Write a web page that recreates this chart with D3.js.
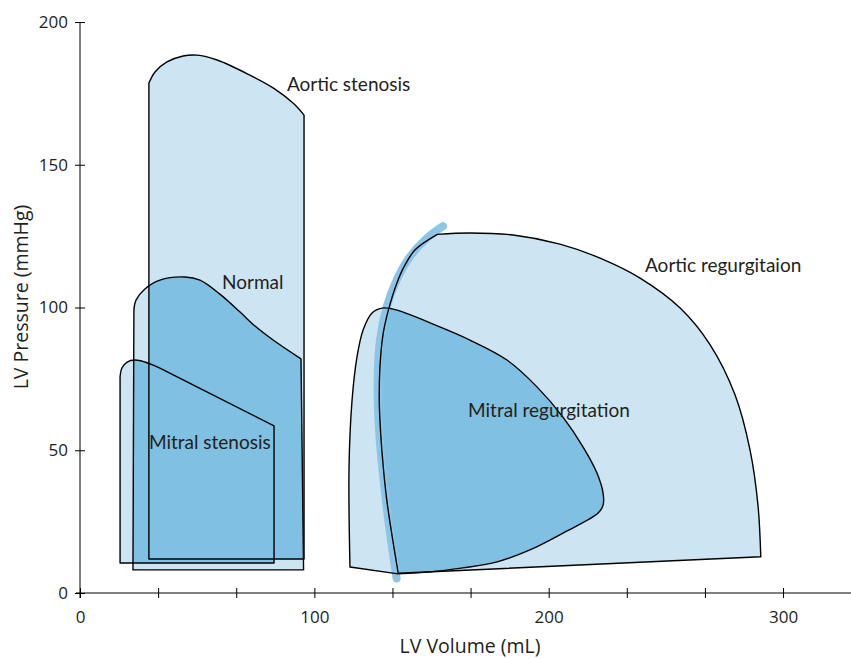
<!DOCTYPE html>
<html>
<head>
<meta charset="utf-8">
<script src="https://cdn.jsdelivr.net/npm/d3@7"></script>
<style>
  html, body { margin: 0; padding: 0; background: #fff; }
  svg { display: block; }
</style>
</head>
<body>
<svg id="chart" width="851" height="659"></svg>
<script>
// ---- Data (LV volume mL, LV pressure mmHg) ----
const xTicks = [0, 100/3, 200/3, 100, 400/3, 500/3, 200, 700/3, 800/3, 300];
const xTickLabels = ["0", "", "", "100", "", "", "200", "", "", "300"];
const yTicks = [0, 50, 100, 150, 200];

// each loop = list of segments; each segment is a smooth run of [volume, pressure]
const aorticStenosis = [
  [[29.4, 11.9], [29.4, 178.6]],
  [[29.4, 178.6], [32.0, 182.5], [37.1, 186.0], [44.0, 188.1], [49.9, 188.4], [58.5, 186.7], [72.5, 181.4], [82.4, 176.9], [90.9, 171.6], [95.6, 167.4]],
  [[95.6, 167.4], [95.6, 11.9]]
];
const normal = [
  [[22.6, 8.1], [23.0, 99.1]],
  [[23.0, 99.1], [23.9, 102.6], [27.7, 106.5], [34.1, 109.6], [44.8, 110.7], [51.2, 109.6], [59.7, 104.7], [68.3, 98.4], [74.7, 93.5], [82.4, 88.6], [94.3, 82.0]],
  [[94.3, 82.0], [95.4, 8.1]]
];
const mitralStenosis = [
  [[17.1, 10.5], [17.1, 75.7]],
  [[17.1, 75.7], [17.9, 78.8], [20.1, 80.9], [23.5, 81.6], [27.7, 80.9], [34.1, 78.8]],
  [[34.1, 78.8], [82.8, 58.5]],
  [[82.8, 58.5], [82.8, 10.5]]
];
const mitralRegurgitation = [
  [[115.2, 9.1], [114.8, 44.1], [116.1, 67.6], [118.2, 82.7], [120.8, 92.1], [124.6, 98.1], [128.9, 99.8], [135.3, 99.1], [149.4, 94.6], [166.4, 88.6], [182.2, 81.6], [195.0, 72.2], [206.1, 61.6], [214.7, 51.1], [220.6, 42.0], [223.2, 35.0], [223.2, 30.8], [221.1, 28.0], [206.1, 21.0], [192.0, 15.1], [178.0, 10.9], [163.4, 8.8], [149.4, 7.4], [135.7, 6.7]],
  [[135.7, 6.7], [115.2, 9.1]]
];
const aorticRegurgitation = [
  [[135.8, 6.9], [133.0, 20.9], [130.9, 32.6], [129.4, 44.2], [128.3, 55.9], [127.7, 67.6], [128.0, 79.3], [129.4, 91.0], [131.6, 99.1], [135.2, 108.5], [138.3, 114.3], [143.0, 120.2], [152.5, 125.6]],
  [[152.5, 125.6], [166.4, 126.1], [184.8, 125.4], [204.8, 122.2], [221.9, 117.3], [239.0, 110.3], [256.1, 99.8], [268.9, 86.9], [279.5, 69.4], [285.9, 50.1], [289.3, 30.8], [290.5, 12.7]],
  [[290.5, 12.7], [135.8, 6.9]]
];
const esprLine = [[135.1, 5.1], [132.3, 20.9], [129.7, 38.4], [127.7, 55.9], [127.0, 73.4], [128.0, 88.6], [130.9, 100.3], [135.1, 109.6], [140.8, 117.8], [147.9, 124.2], [154.9, 128.5]];

const loopNames = ["Aortic stenosis", "Normal", "Mitral stenosis", "Mitral regurgitation", "Aortic regurgitaion"];
const loops = [aorticStenosis, normal, mitralStenosis, mitralRegurgitation, aorticRegurgitation];
const overlapPairs = [[0, 1], [0, 2], [1, 2], [3, 4]];
const labelAnchors = [[88.3, 175.8], [60.6, 106.5], [29.4, 50.4], [165.6, 61.6], [241.1, 112.4]];

// ---- Chart ----
const svg = d3.select("#chart");
const x = d3.scaleLinear().domain([0, 329]).range([80, 851]);
const y = d3.scaleLinear().domain([0, 200]).range([593, 22]);

const light = "#cde5f2", dark = "#80c0e2", band = "#8cc5e5", ink = "#231f20";
const labelFont = "Lato, 'Open Sans', sans-serif";
const axisFont = "'Open Sans', sans-serif";

const seg = d3.line().x(d => x(d[0])).y(d => y(d[1])).curve(d3.curveCatmullRom.alpha(0.5));
function loopPath(segments) {
  let s = "";
  segments.forEach((pts, i) => {
    let p = seg(pts);
    if (i > 0) p = "L" + p.slice(1);
    s += p;
  });
  return s + "Z";
}

const defs = svg.append("defs");
loops.forEach((lp, i) => {
  defs.append("clipPath").attr("id", "clip" + i).append("path").attr("d", loopPath(lp));
});

// light fills
svg.append("g").selectAll("path").data(loops).join("path")
  .attr("d", loopPath).attr("fill", light).attr("stroke", "none");

// overlaps darker
svg.append("g").selectAll("path").data(overlapPairs).join("path")
  .attr("d", d => loopPath(loops[d[1]]))
  .attr("clip-path", d => `url(#clip${d[0]})`)
  .attr("fill", dark);

// thick line
svg.append("path")
  .attr("d", seg(esprLine))
  .attr("fill", "none").attr("stroke", band).attr("stroke-width", 8).attr("stroke-linecap", "round");

// outlines
svg.append("g").selectAll("path").data(loops).join("path")
  .attr("d", loopPath).attr("fill", "none").attr("stroke", "#000")
  .attr("stroke-width", 1.4).attr("stroke-linejoin", "round");

// labels
svg.append("g").selectAll("text").data(loopNames).join("text")
  .attr("x", (d, i) => x(labelAnchors[i][0]))
  .attr("y", (d, i) => y(labelAnchors[i][1]))
  .attr("font-family", labelFont).attr("font-size", 19).attr("fill", ink)
  .text(d => d);

// axes
const xAxis = svg.append("g").attr("transform", `translate(0,${y(0)})`)
  .call(d3.axisBottom(x).tickValues(xTicks).tickSizeOuter(0).tickSize(5)
    .tickFormat((d, i) => xTickLabels[i]));
xAxis.select(".domain").remove();
xAxis.selectAll(".tick line").attr("y1", -5).attr("y2", 5).attr("stroke", "#000");
xAxis.selectAll(".tick text").attr("y", 18).attr("dy", "0.71em")
  .attr("font-family", axisFont).attr("font-size", 17).attr("fill", ink);
xAxis.append("line").attr("x1", 76).attr("x2", 851).attr("y1", 0).attr("y2", 0).attr("stroke", "#000");

const yAxis = svg.append("g").attr("transform", `translate(${x(0)},0)`)
  .call(d3.axisLeft(y).tickValues(yTicks).tickSizeOuter(0).tickSize(5));
yAxis.select(".domain").remove();
yAxis.selectAll(".tick line").attr("x1", -5).attr("x2", 5).attr("stroke", "#000");
yAxis.selectAll(".tick text").attr("x", -12)
  .attr("font-family", axisFont).attr("font-size", 17).attr("fill", ink);
yAxis.append("line").attr("x1", 0).attr("x2", 0).attr("y1", y(200)).attr("y2", y(0) + 5).attr("stroke", "#000");

svg.append("text").attr("x", 470).attr("y", 653).attr("text-anchor", "middle")
  .attr("font-family", axisFont).attr("font-size", 19.5).attr("fill", ink)
  .text("LV Volume (mL)");
svg.append("text").attr("transform", "translate(28,297) rotate(-90)").attr("text-anchor", "middle")
  .attr("font-family", axisFont).attr("font-size", 19.5).attr("fill", ink)
  .text("LV Pressure (mmHg)");
</script>
</body>
</html>
